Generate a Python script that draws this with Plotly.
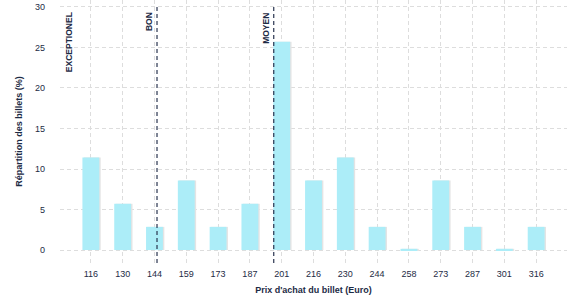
import numpy as np
import plotly.graph_objects as go

prices = ["116", "130", "144", "159", "173", "187", "201", "216", "230", "244", "258", "273", "287", "301", "316"]
shares = [11.43, 5.71, 2.86, 8.57, 2.86, 5.71, 25.71, 8.57, 11.43, 2.86, 0.15, 8.57, 2.86, 0.15, 2.86]
ref_labels = ["EXCEPTIONEL", "BON", "MOYEN"]
ref_prices = [109.7, 145.2, 197.5]
ref_lines = [False, True, True]

price_num = np.array([float(p) for p in prices])
idx = np.arange(len(prices))

txt = "#1d2b45"
grid = "#dddddd"

fig = go.Figure()
# subtle shadow
fig.add_trace(go.Bar(x=idx, y=shares, width=0.53, offset=-0.265 + 0.045,
                     marker=dict(color="#e4e4e4", line=dict(width=0)), hoverinfo="skip"))
fig.add_trace(go.Bar(x=idx, y=shares, width=0.53, offset=-0.265,
                     marker=dict(color="#acedf8", line=dict(width=0))))

for lab, p, show in zip(ref_labels, ref_prices, ref_lines):
    if p < price_num[0]:
        xi = (p - price_num[0]) / (price_num[1] - price_num[0])
    else:
        xi = float(np.interp(p, price_num, idx))
    if show:
        fig.add_shape(type="line", xref="x", yref="paper", x0=xi, x1=xi, y0=0, y1=0.985,
                      line=dict(color="#2a3550", width=1.2, dash="4px,3px"))
    fig.add_annotation(x=xi, y=29.55, xref="x", yref="y", text="<b>" + lab + "</b>", textangle=-90,
                       showarrow=False, xanchor="right", yanchor="top", xshift=-1,
                       font=dict(size=8.5, color=txt, family="Liberation Sans"))

fig.update_layout(
    width=577, height=300,
    margin=dict(l=60, r=10, t=0, b=37),
    paper_bgcolor="white", plot_bgcolor="white",
    showlegend=False, barmode="overlay",
    font=dict(family="Liberation Sans, Arial, sans-serif", size=9, color=txt),
    xaxis=dict(tickmode="array", tickvals=idx, ticktext=prices, range=[-0.97, 14.97],
               showgrid=True, gridcolor=grid, griddash="4px,3px", gridwidth=1,
               zeroline=False, showline=False, ticks="", ticklabelstandoff=4,
               title=dict(text="<b>Prix d'achat du billet (Euro)</b>", standoff=8,
                          font=dict(size=9, color=txt))),
    yaxis=dict(range=[-1.6, 30.86], tickvals=[0, 5, 10, 15, 20, 25, 30],
               showgrid=True, gridcolor=grid, griddash="4px,3px", gridwidth=1,
               zeroline=False, showline=False, ticks="", ticklabelstandoff=14,
               title=dict(text="<b>Répartition des billets (%)</b>", standoff=10,
                          font=dict(size=9, color=txt))),
)

fig.write_html("out.html")
